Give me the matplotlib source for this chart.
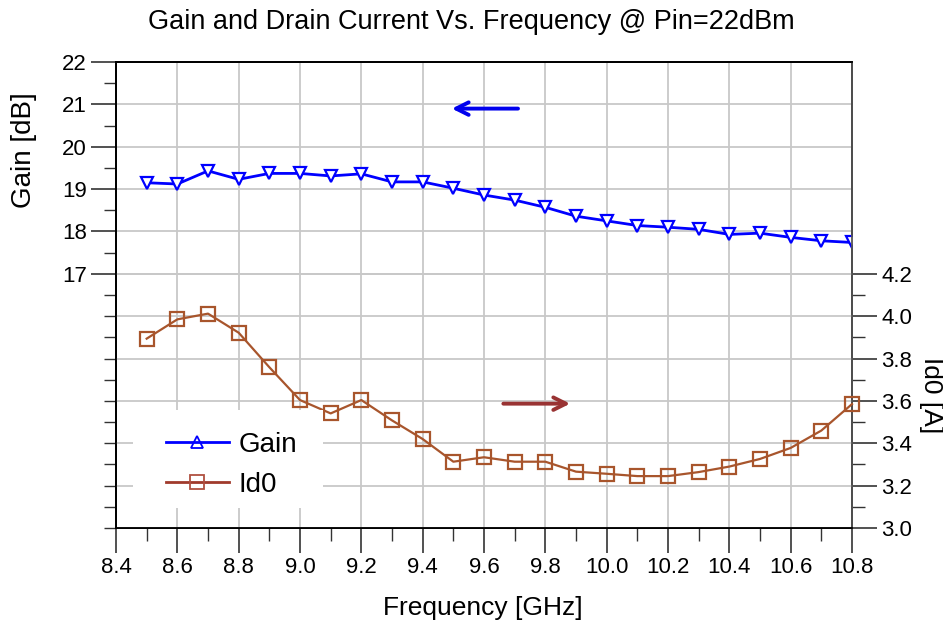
import numpy as np
import matplotlib.pyplot as plt
from matplotlib.lines import Line2D
from matplotlib.patches import Rectangle
from matplotlib.ticker import MultipleLocator, FixedLocator

plt.rcParams['font.family'] = ['Liberation Sans', 'DejaVu Sans']

freq = [8.5, 8.6, 8.7, 8.8, 8.9, 9.0, 9.1, 9.2, 9.3, 9.4, 9.5, 9.6,
        9.7, 9.8, 9.9, 10.0, 10.1, 10.2, 10.3, 10.4, 10.5, 10.6, 10.7, 10.8]
gain = [19.15, 19.12, 19.43, 19.23, 19.37, 19.37, 19.31, 19.36, 19.17, 19.17, 19.02, 18.86,
        18.74, 18.57, 18.36, 18.25, 18.14, 18.10, 18.05, 17.93, 17.96, 17.86, 17.78, 17.74]
id0 = [3.894, 3.985, 4.012, 3.922, 3.759, 3.604, 3.541, 3.604, 3.508, 3.420, 3.313, 3.334,
       3.313, 3.313, 3.266, 3.256, 3.245, 3.245, 3.264, 3.290, 3.326, 3.378, 3.460, 3.585]

gain_ticks = [17, 18, 19, 20, 21, 22]
id0_ticks = [3.0, 3.2, 3.4, 3.6, 3.8, 4.0, 4.2]

blue = '#0000ff'
brown = '#a8552c'

fig = plt.figure(figsize=(9.43, 6.26), dpi=100)
ax = fig.add_axes([116 / 943, 1 - 528 / 626, 736 / 943, 466 / 626])
ax2 = ax.twinx()

ax.set_xlim(8.4, 10.8)
ax.set_ylim(11, 22)
ax2.set_ylim(3.0, 5.2)

grid_kw = dict(color='#c8c8c8', linewidth=1.3)
ax.xaxis.set_major_locator(MultipleLocator(0.2))
ax.xaxis.set_minor_locator(MultipleLocator(0.1))
ax.set_xticklabels([f'{v:.1f}' for v in ax.get_xticks()])
ax.yaxis.set_major_locator(FixedLocator(gain_ticks))
ax.yaxis.set_minor_locator(FixedLocator(np.arange(11, 22, 0.5)))
ax.grid(True, which='major', **grid_kw)
ax.set_axisbelow(True)

ax2.yaxis.set_major_locator(FixedLocator(id0_ticks))
ax2.yaxis.set_minor_locator(FixedLocator(np.arange(3.1, 4.2, 0.2)))
ax2.set_yticklabels([f'{v:.1f}' for v in id0_ticks])
ax2.grid(True, axis='y', which='major', **grid_kw)
ax2.set_axisbelow(True)

for a in (ax, ax2):
    a.tick_params(which='major', direction='out', length=18, width=1.2, labelsize=16,
                  color='#333333', pad=3)
    a.tick_params(which='minor', direction='out', length=9, width=1.0, color='#333333')
    for s in a.spines.values():
        s.set_linewidth(1.3)
ax2.spines['right'].set_color('#555555')

ax.plot(freq, gain, color=blue, lw=2, marker='v', ms=9, mfc='white', mec=blue, mew=1.6, zorder=3)
ax2.plot(freq, id0, color=brown, lw=1.6, marker='s', ms=10, mfc='none', mec=brown, mew=1.6,
         zorder=3, clip_on=False)

# direction arrows pointing at the axis each curve belongs to
ax.annotate('', xy=(9.486, 20.9), xytext=(9.72, 20.9),
            arrowprops=dict(arrowstyle='->,head_length=0.9,head_width=0.45', color='#0000ee', lw=2.8))
ax2.annotate('', xy=(9.89, 3.587), xytext=(9.654, 3.587),
             arrowprops=dict(arrowstyle='->,head_length=0.9,head_width=0.45', color='#993333', lw=2.8))

# white block behind the legend hides the grid there
ax2.add_patch(Rectangle((17 / 736, 20 / 466), 190 / 736, 98 / 466, transform=ax2.transAxes,
                        facecolor='white', edgecolor='none', zorder=4))
handles = [
    Line2D([], [], color=blue, lw=2, marker='^', ms=8, mfc='none', mec=blue, mew=1.3),
    Line2D([], [], color='#a03a2c', lw=2, marker='s', ms=10, mfc='none', mec='#b05040', mew=1.3),
]
leg = ax2.legend(handles, ['Gain', 'Id0'], loc='upper left', bbox_to_anchor=(50 / 736, 96 / 466),
                 fontsize=20, frameon=False, handlelength=2.25, handletextpad=0.35,
                 labelspacing=0.5, borderpad=0, borderaxespad=0)
leg.set_zorder(5)

fig.text(471 / 943, 1 - 22 / 626, 'Gain and Drain Current Vs. Frequency @ Pin=22dBm',
         ha='center', va='center', fontsize=19.5)
fig.text(483 / 943, 1 - 608 / 626, 'Frequency [GHz]', ha='center', va='center', fontsize=19)
fig.text(24 / 943, 1 - 150 / 626, 'Gain [dB]', ha='center', va='center', rotation=90, fontsize=20)
fig.text(931 / 943, 1 - 395 / 626, 'Id0 [A]', ha='center', va='center', rotation=270, fontsize=19)

fig.savefig('out.png', dpi=100)
